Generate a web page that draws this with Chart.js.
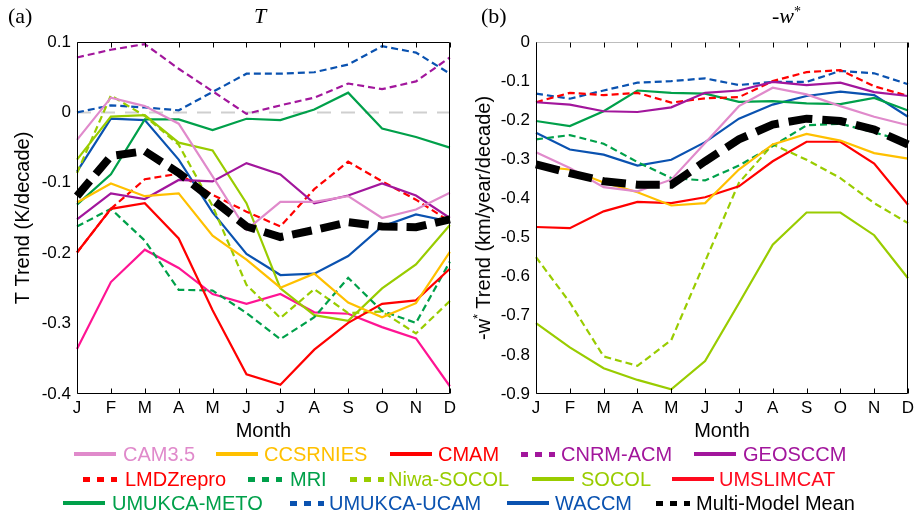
<!DOCTYPE html>
<html><head><meta charset="utf-8">
<script src="https://cdn.jsdelivr.net/npm/chart.js@4.4.1/dist/chart.umd.min.js"></script>
<style>
body{margin:0;background:#fff;}
#wrap{position:relative;width:919px;height:516px;overflow:hidden;font-family:"Liberation Sans",Arial,sans-serif;background:#fff;}
canvas{position:absolute;top:0;}
.ttl{position:absolute;font-family:"Liberation Serif","Times New Roman",serif;font-size:22px;color:#000;line-height:24px;white-space:nowrap;}
.legtxt{position:absolute;font-size:20px;line-height:24px;white-space:nowrap;}
.sw{position:absolute;}
#ylabW{position:absolute;left:483px;top:218px;transform:translate(-50%,-50%) rotate(-90deg);font-size:20px;line-height:24px;white-space:nowrap;color:#000;}
#ylabW sup{font-size:13px;vertical-align:8px;line-height:0;}
</style></head><body><div id="wrap">
<canvas id="cT" width="460" height="445" style="left:0"></canvas>
<canvas id="cW" width="460" height="445" style="left:459px"></canvas>
<div class="ttl" style="left:8px;top:4px">(a)</div>
<div class="ttl" style="left:254px;top:4px;font-style:italic">T</div>
<div class="ttl" style="left:481px;top:4px">(b)</div>
<div class="ttl" style="left:772px;top:4px">-<i>w</i><sup style="font-size:14px;vertical-align:7px;line-height:0">*</sup></div>
<div id="ylabW">-w<sup>*</sup> Trend (km/year/decade)</div>
<div id="legend"></div>
</div>
<script>
// ---------------- data ----------------
const months = ['J','F','M','A','M','J','J','A','S','O','N','D'];
const models = ['CAM3.5','CCSRNIES','CMAM','CNRM-ACM','GEOSCCM','LMDZrepro','MRI','Niwa-SOCOL','SOCOL','UMSLIMCAT','UMUKCA-METO','UMUKCA-UCAM','WACCM','Multi-Model Mean'];

// Panel (a): T trend (K/decade)
const T_CAM35     = [-0.039, 0.021, 0.009,-0.016,-0.091,-0.167,-0.127,-0.127,-0.119,-0.150,-0.138,-0.114];
const T_CCSRNIES  = [-0.128,-0.101,-0.119,-0.115,-0.175,-0.209,-0.249,-0.229,-0.270,-0.291,-0.271,-0.198];
const T_CMAM      = [-0.199,-0.137,-0.129,-0.179,-0.281,-0.372,-0.387,-0.337,-0.299,-0.272,-0.267,-0.222];
const T_CNRMACM   = [ 0.078, 0.089, 0.097, 0.062, 0.030,-0.002, 0.010, 0.021, 0.041, 0.033, 0.044, 0.078];
const T_GEOSCCM   = [-0.152,-0.115,-0.123,-0.096,-0.098,-0.072,-0.088,-0.129,-0.118,-0.101,-0.118,-0.150];
const T_LMDZ      = [-0.199,-0.137,-0.095,-0.087,-0.117,-0.141,-0.162,-0.109,-0.070,-0.098,-0.124,-0.155];
const T_MRI       = [-0.162,-0.137,-0.182,-0.252,-0.253,-0.285,-0.322,-0.291,-0.235,-0.282,-0.299,-0.212];
const T_NIWA      = [-0.086, 0.024,-0.005,-0.046,-0.133,-0.245,-0.292,-0.251,-0.285,-0.283,-0.314,-0.268];
const T_SOCOL     = [-0.067,-0.006,-0.004,-0.043,-0.054,-0.129,-0.250,-0.288,-0.296,-0.250,-0.216,-0.160];
const T_UMSLIMCAT = [-0.336,-0.241,-0.195,-0.221,-0.258,-0.272,-0.258,-0.284,-0.286,-0.305,-0.321,-0.389];
const T_METO      = [-0.131,-0.088,-0.010,-0.010,-0.025,-0.009,-0.011, 0.004, 0.028,-0.023,-0.035,-0.050];
const T_UCAM      = [ 0.000, 0.010, 0.007, 0.003, 0.029, 0.055, 0.055, 0.057, 0.068, 0.094, 0.085, 0.055];
const T_WACCM     = [-0.084,-0.009,-0.011,-0.067,-0.142,-0.201,-0.231,-0.229,-0.204,-0.162,-0.145,-0.155];
const T_MEAN      = [-0.119,-0.062,-0.055,-0.086,-0.124,-0.162,-0.177,-0.167,-0.156,-0.162,-0.163,-0.152];

// Panel (b): -w* trend (km/year/decade)
const W_CAM35     = [-0.282,-0.322,-0.371,-0.382,-0.352,-0.258,-0.164,-0.117,-0.134,-0.164,-0.191,-0.213];
const W_CCSRNIES  = [-0.318,-0.326,-0.359,-0.384,-0.418,-0.412,-0.326,-0.262,-0.235,-0.252,-0.284,-0.298];
const W_CMAM      = [-0.473,-0.476,-0.433,-0.409,-0.412,-0.397,-0.369,-0.305,-0.255,-0.255,-0.311,-0.416];
const W_GEOSCCM   = [-0.154,-0.160,-0.177,-0.179,-0.167,-0.130,-0.124,-0.102,-0.110,-0.104,-0.128,-0.138];
const W_LMDZ      = [-0.154,-0.130,-0.136,-0.130,-0.155,-0.144,-0.141,-0.100,-0.077,-0.072,-0.113,-0.138];
const W_MRI       = [-0.249,-0.238,-0.260,-0.307,-0.348,-0.354,-0.316,-0.266,-0.213,-0.209,-0.231,-0.256];
const W_NIWA      = [-0.550,-0.666,-0.804,-0.828,-0.762,-0.561,-0.360,-0.262,-0.301,-0.348,-0.412,-0.463];
const W_SOCOL     = [-0.719,-0.781,-0.834,-0.864,-0.888,-0.816,-0.668,-0.518,-0.436,-0.436,-0.494,-0.604];
const W_METO      = [-0.202,-0.215,-0.177,-0.124,-0.130,-0.132,-0.153,-0.151,-0.157,-0.159,-0.143,-0.175];
const W_UCAM      = [-0.132,-0.145,-0.124,-0.104,-0.100,-0.093,-0.110,-0.102,-0.102,-0.074,-0.080,-0.108];
const W_WACCM     = [-0.232,-0.275,-0.288,-0.316,-0.301,-0.256,-0.196,-0.160,-0.138,-0.127,-0.136,-0.191];
const W_MEAN      = [-0.313,-0.335,-0.356,-0.365,-0.365,-0.305,-0.249,-0.211,-0.196,-0.202,-0.224,-0.262];

const tSeries = [T_CAM35,T_CCSRNIES,T_CMAM,T_CNRMACM,T_GEOSCCM,T_LMDZ,T_MRI,T_NIWA,T_SOCOL,T_UMSLIMCAT,T_METO,T_UCAM,T_WACCM,T_MEAN];
const wSeries = [W_CAM35,W_CCSRNIES,W_CMAM,null,W_GEOSCCM,W_LMDZ,W_MRI,W_NIWA,W_SOCOL,null,W_METO,W_UCAM,W_WACCM,W_MEAN];

const tTicks = {min:-0.4, max:0.1, step:0.1};
const wTicks = {min:-0.9, max:0, step:0.1};

// ---------------- styles ----------------
const lineColors   = ['#E08ACB','#FFC000','#FF0000','#A2169C','#A2169C','#FF0000','#00A04A','#99CC00','#99CC00','#FF1493','#00A04A','#0A52B0','#0A52B0','#000000'];
const legendColors = ['#E08ACB','#FFC000','#FF0000','#A2169C','#A2169C','#FF0000','#00A04A','#99CC00','#99CC00','#FF0A1E','#00A04A','#0A52B0','#0A52B0','#000000'];
const dashed       = [false,false,false,true,false,true,true,true,false,false,false,true,false,true];
// legend layout: [sample x, text x, row]
const legendPos = [[74,123,0],[216,264,0],[390,438,0],[521,561,0],[694,743,0],
                   [83,125,1],[248,290,1],[350,388,1],[532,581,1],[672,719,1],
                   [63,112,2],[290,329,2],[507,555,2],[656,696,2]];
const legendRowY = [454,479,503];

Chart.defaults.font.family = "'Liberation Sans', Arial, sans-serif";
Chart.defaults.color = '#000';

function fmt(v){ if (Math.abs(v) < 1e-9) return '0'; return String(Math.round(v*10)/10); }

const framePlugin = {
  id: 'frame',
  beforeDatasetsDraw(chart, args, opts){
    if (!opts.zero) return;
    const {ctx, chartArea:a} = chart;
    const y = Math.round(chart.scales.y.getPixelForValue(0)) + 0.5;
    ctx.save();
    ctx.strokeStyle = '#CFCFCF'; ctx.lineWidth = 2; ctx.setLineDash([14,10]);
    ctx.beginPath(); ctx.moveTo(a.left, y); ctx.lineTo(a.right, y); ctx.stroke();
    ctx.restore();
  },
  afterDatasetsDraw(chart, args, opts){
    const {ctx, chartArea:a} = chart;
    const xs = chart.scales.x;
    const L = Math.round(a.left)+0.5, R = Math.round(a.right)-0.5, T = Math.round(a.top)+0.5, B = Math.round(a.bottom)-0.5;
    ctx.save();
    ctx.lineWidth = 1; ctx.setLineDash([]);
    ctx.strokeStyle = opts.topColor || '#000';
    ctx.beginPath(); ctx.moveTo(L, T); ctx.lineTo(R, T); ctx.stroke();
    ctx.strokeStyle = '#000';
    ctx.beginPath();
    ctx.moveTo(L, T); ctx.lineTo(L, B); ctx.lineTo(R, B); ctx.lineTo(R, T);
    for (let i = 0; i < xs.ticks.length; i++) {
      const x = Math.round(xs.getPixelForTick(i)) + 0.5;
      ctx.moveTo(x, B); ctx.lineTo(x, B - 5);
      ctx.moveTo(x, T); ctx.lineTo(x, T + 5);
    }
    ctx.stroke();
    ctx.restore();
  }
};

function buildDatasets(series, panel){
  const ds = [];
  series.forEach((data, i) => {
    if (!data) return;
    const isMean = i === series.length - 1;
    ds.push({
      label: models[i],
      data: data,
      borderColor: lineColors[i],
      backgroundColor: lineColors[i],
      borderWidth: isMean ? 8 : 2.2,
      borderDash: isMean ? (panel === 'T' ? [20,9] : [24,10]) : (dashed[i] ? [7,4] : []),
      borderCapStyle: 'butt',
      pointRadius: 0,
      tension: 0,
      fill: false,
      order: isMean ? 0 : 1
    });
  });
  return ds;
}

function makeChart(id, series, ticks, panel, yTitle, frameOpts, padRight){
  return new Chart(document.getElementById(id), {
    type: 'line',
    data: { labels: months, datasets: buildDatasets(series, panel) },
    options: {
      responsive: false, animation: false, devicePixelRatio: 1,
      layout: { padding: { left: 0, right: padRight, top: 42, bottom: 0 } },
      plugins: { legend: { display: false }, tooltip: { enabled: false }, frame: frameOpts },
      scales: {
        x: {
          type: 'category', offset: false,
          grid: { display: false, drawTicks: false }, border: { display: false },
          ticks: { font: { size: 17 }, padding: 4, maxRotation: 0, autoSkip: false },
          title: { display: true, text: 'Month', font: { size: 20 }, padding: { top: 0, bottom: 2 } },
          afterFit(s){ s.height = 51; }
        },
        y: {
          min: ticks.min, max: ticks.max,
          grid: { display: false, drawTicks: false }, border: { display: false },
          ticks: { stepSize: ticks.step, font: { size: 17 }, padding: 6, callback: v => fmt(v) },
          title: { display: !!yTitle, text: yTitle || '', font: { size: 20 }, padding: { top: 11, bottom: 0 } },
          afterFit(s){ s.width = 77; }
        }
      }
    },
    plugins: [framePlugin]
  });
}

makeChart('cT', tSeries, tTicks, 'T', 'T Trend (K/decade)', { zero: true, topColor: '#000' }, 10);
makeChart('cW', wSeries, wTicks, 'W', null, { zero: false, topColor: '#BDBDBD' }, 11);

// ---------------- HTML legend ----------------
const leg = document.getElementById('legend');
models.forEach((name, i) => {
  const [sx, tx, row] = legendPos[i];
  const cy = legendRowY[row];
  const sw = document.createElement('div');
  sw.className = 'sw';
  if (dashed[i]) {
    sw.style.cssText = `left:${sx}px;top:${cy-2}px;width:34px;height:5px;background:repeating-linear-gradient(90deg, ${legendColors[i]} 0 7px, transparent 7px 14px);`;
  } else {
    sw.style.cssText = `left:${sx}px;top:${cy-2}px;width:42px;height:4px;background:${legendColors[i]};`;
  }
  leg.appendChild(sw);
  const t = document.createElement('div');
  t.className = 'legtxt';
  t.style.cssText = `left:${tx}px;top:${cy-12}px;color:${legendColors[i]};`;
  t.textContent = name;
  leg.appendChild(t);
});
</script>
</body></html>
